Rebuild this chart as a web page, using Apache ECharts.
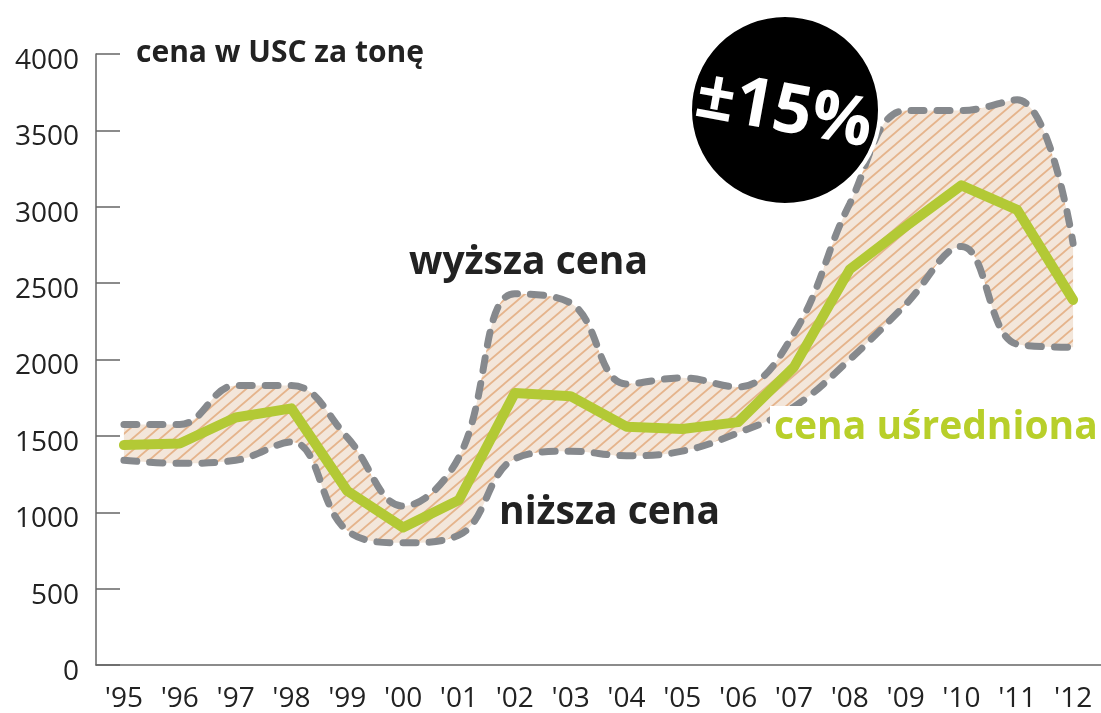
<!DOCTYPE html>
<html>
<head>
<meta charset="utf-8">
<script src="https://cdn.jsdelivr.net/npm/echarts@6/dist/echarts.min.js"></script>
<style>
  html, body { margin: 0; padding: 0; background: #fff; }
  #main { width: 1101px; height: 713px; }
</style>
</head>
<body>
<div id="main"></div>
<script>
// lata
var years = ["'95", "'96", "'97", "'98", "'99", "'00", "'01", "'02", "'03", "'04", "'05", "'06", "'07", "'08", "'09", "'10", "'11", "'12"];
// cena uśredniona
var avgPrice = [1440, 1450, 1620, 1680, 1140, 900, 1080, 1780, 1760, 1560, 1545, 1590, 1950, 2590, 2870, 3140, 2980, 2390];
// wyższa cena
var highPrice = [1575, 1575, 1830, 1830, 1490, 1040, 1360, 2430, 2370, 1840, 1880, 1820, 2170, 3020, 3630, 3630, 3700, 2760];
// niższa cena
var lowPrice = [1340, 1320, 1340, 1460, 880, 800, 850, 1350, 1400, 1370, 1400, 1520, 1690, 2000, 2360, 2740, 2100, 2080];
var yTicks = [0, 500, 1000, 1500, 2000, 2500, 3000, 3500, 4000];

var bandWidth = highPrice.map(function (v, i) { return v - lowPrice[i]; });

// kreskowanie
var hatch = document.createElement('canvas');
hatch.width = 14; hatch.height = 12;
var hc = hatch.getContext('2d');
hc.fillStyle = '#f3e6da';
hc.fillRect(0, 0, 14, 12);
hc.strokeStyle = '#e5b48c';
hc.lineWidth = 1.8;
hc.beginPath();
hc.moveTo(-2.33, 14); hc.lineTo(16.33, -2);
hc.moveTo(-2.33, 2); hc.lineTo(2.33, -2);
hc.moveTo(11.67, 14); hc.lineTo(16.33, 10);
hc.stroke();

var myChart = echarts.init(document.getElementById('main'));
var font = '"Open Sans", "Noto Sans", sans-serif';
var dashStyle = { color: '#86898d', width: 7, type: [13, 13], cap: 'round' };

var option = {
    animation: false,
    grid: { left: 96, right: 0, top: 54, bottom: 48 },
    xAxis: {
        type: 'category',
        data: years,
        boundaryGap: true,
        axisLine: { lineStyle: { color: '#666', width: 1.5 } },
        axisTick: { inside: true, length: 15, lineStyle: { color: '#666', width: 1.5 } },
        axisLabel: { color: '#222', fontSize: 28, fontFamily: font, margin: 20 }
    },
    yAxis: {
        type: 'value',
        min: yTicks[0],
        max: yTicks[yTicks.length - 1],
        interval: 500,
        splitLine: { show: false },
        axisLine: { show: true, lineStyle: { color: '#666', width: 1.5 } },
        axisTick: { show: true, inside: true, length: 24, lineStyle: { color: '#666', width: 1.5 } },
        axisLabel: {
            color: '#222', fontSize: 28, fontFamily: font, margin: 17,
            verticalAlign: 'top', lineHeight: 14,
            formatter: function (v) { return String(v); }
        }
    },
    series: [
        {
            name: 'dolna',
            type: 'line',
            data: lowPrice,
            stack: 'pasmo',
            smooth: 0.4,
            symbol: 'none',
            lineStyle: { width: 0 },
            z: 1
        },
        {
            name: 'pasmo',
            type: 'line',
            data: bandWidth,
            stack: 'pasmo',
            smooth: 0.4,
            symbol: 'none',
            lineStyle: { width: 0 },
            areaStyle: { color: { image: hatch, repeat: 'repeat' }, opacity: 1 },
            z: 1
        },
        {
            name: 'wyższa cena',
            type: 'line',
            data: highPrice,
            smooth: 0.4,
            symbol: 'none',
            lineStyle: dashStyle,
            z: 2
        },
        {
            name: 'niższa cena',
            type: 'line',
            data: lowPrice,
            smooth: 0.4,
            symbol: 'none',
            lineStyle: dashStyle,
            z: 2
        },
        {
            name: 'cena uśredniona',
            type: 'line',
            data: avgPrice,
            symbol: 'none',
            lineStyle: { color: '#b3c935', width: 10, join: 'round', cap: 'round' },
            z: 3
        }
    ],
    graphic: [
        {
            type: 'text', left: 136, top: 38, z: 10,
            style: { text: 'cena w USC za tonę', fill: '#222', font: 'bold 30px ' + font }
        },
        {
            type: 'text', left: 409, top: 243, z: 10,
            style: { text: 'wyższa cena', fill: '#222', font: 'bold 39px ' + font }
        },
        {
            type: 'text', left: 499, top: 493, z: 10,
            style: { text: 'niższa cena', fill: '#222', font: 'bold 39px ' + font }
        },
        {
            type: 'text', left: 770, top: 406, z: 10,
            style: {
                text: 'cena uśredniona', fill: '#b8cf2a', font: 'bold 39px ' + font,
                backgroundColor: '#fff', padding: [2, 4, 0, 4]
            }
        },
        {
            type: 'circle', z: 20,
            shape: { cx: 785, cy: 110, r: 95 },
            style: { fill: '#000', stroke: '#fff', lineWidth: 4 }
        },
        {
            type: 'text', z: 21,
            x: 784, y: 112, rotation: -0.18,
            style: {
                text: '±15%', fill: '#fff', font: 'bold 68px ' + font,
                align: 'center', verticalAlign: 'middle'
            }
        }
    ]
};

myChart.setOption(option);
</script>
</body>
</html>
